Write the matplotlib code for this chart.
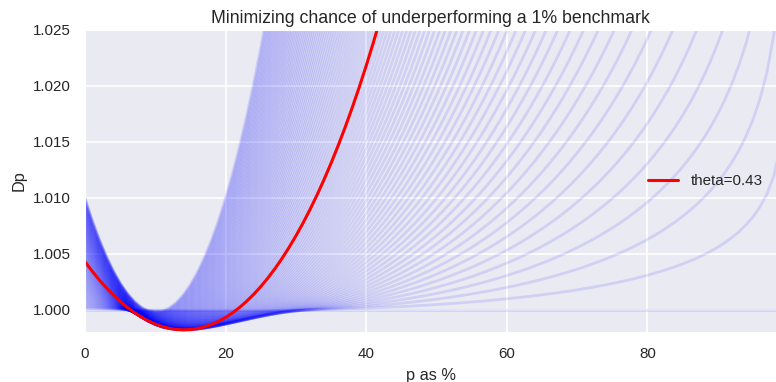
import numpy as np
import matplotlib
matplotlib.use('Agg')
import matplotlib.pyplot as plt
import seaborn as sns

# Even-money bet: win +100% with prob 0.6, lose -100% with 0.4
# benchmark 1%, theta from 0 to 1 in steps of 0.01, highlighted theta 0.43
win_prob = 0.6
outcomes = [1.0, -1.0]
benchmark = 0.01
thetas = np.arange(0, 101) / 100.0
theta_hi = 0.43
p_pct = np.arange(0, 100)  # p as %

sns.set_style('darkgrid')
plt.rcParams['font.family'] = ['Liberation Sans', 'DejaVu Sans']


def Dp(theta, p):
    # Chernoff style bound on P(return < benchmark)
    up = win_prob * (1 + p * outcomes[0]) ** (-theta)
    down = (1 - win_prob) * (1 + p * outcomes[1]) ** (-theta)
    return (1 + benchmark) ** theta * (up + down)


fig = plt.figure(figsize=(7.76, 3.82), dpi=100)
ax = fig.add_axes([85 / 776, 50 / 382, 691 / 776, 302 / 382])

p = p_pct / 100.0
for th in thetas:
    ax.plot(p_pct, Dp(th, p), color='b', alpha=0.11, lw=2)
ax.plot(p_pct, Dp(theta_hi, p), color='r', lw=2.2, label='theta={0:.2f}'.format(theta_hi))

ax.set_xlim(0, 98.3)
ax.set_ylim(0.998, 1.025)
ax.set_xticks([0, 20, 40, 60, 80])
ax.set_yticks([1.000, 1.005, 1.010, 1.015, 1.020, 1.025])
ax.set_yticklabels(['{0:.3f}'.format(v) for v in ax.get_yticks()])
ax.tick_params(labelsize=10.9, colors='#262626', pad=7)
ax.grid(True, color='white', lw=1.2)

ax.set_xlabel('p as %', fontsize=11.8, color='#262626', labelpad=5)
ax.set_ylabel('Dp', fontsize=11.8, color='#262626', labelpad=4)
ax.set_title('Minimizing chance of underperforming a 1% benchmark', fontsize=12.8, color='#262626', pad=5)
ax.legend(loc='center right', frameon=False, fontsize=10.9)

fig.savefig('out.png', dpi=100)
